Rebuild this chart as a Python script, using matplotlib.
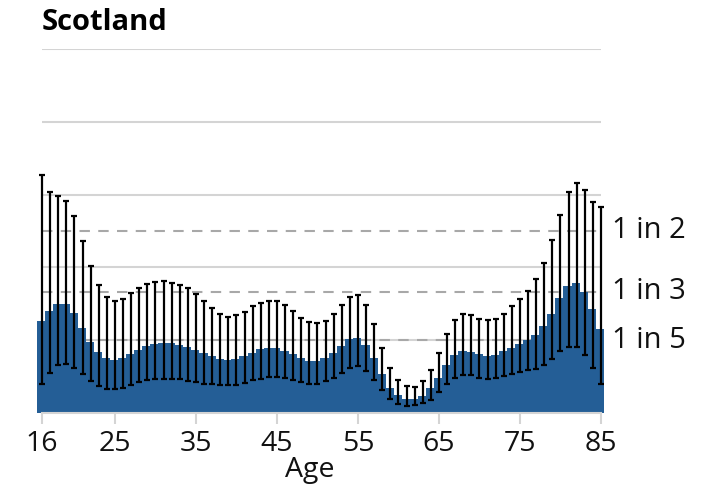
import numpy as np
import matplotlib
matplotlib.use('Agg')
import matplotlib.pyplot as plt

plt.rcParams['font.family'] = ['Open Sans', 'DejaVu Sans']

ages = list(range(16, 86))

# estimated share (bar height) per age
share = [0.253, 0.280, 0.300, 0.300, 0.274, 0.234, 0.196, 0.167, 0.150, 0.146,
         0.151, 0.163, 0.174, 0.184, 0.190, 0.192, 0.192, 0.188, 0.182, 0.174,
         0.166, 0.156, 0.148, 0.145, 0.148, 0.156, 0.166, 0.176, 0.178, 0.179,
         0.171, 0.162, 0.151, 0.144, 0.143, 0.150, 0.165, 0.184, 0.202, 0.206,
         0.187, 0.150, 0.106, 0.070, 0.050, 0.039, 0.039, 0.048, 0.068, 0.097,
         0.131, 0.158, 0.169, 0.168, 0.161, 0.157, 0.160, 0.169, 0.179, 0.190,
         0.200, 0.215, 0.239, 0.273, 0.315, 0.350, 0.358, 0.333, 0.286, 0.232]

upper = [0.653, 0.608, 0.595, 0.583, 0.540, 0.473, 0.405, 0.352, 0.319, 0.307,
         0.313, 0.329, 0.344, 0.355, 0.361, 0.362, 0.358, 0.352, 0.343, 0.327,
         0.307, 0.289, 0.272, 0.265, 0.268, 0.278, 0.293, 0.303, 0.308, 0.307,
         0.296, 0.280, 0.262, 0.250, 0.246, 0.253, 0.272, 0.298, 0.319, 0.324,
         0.298, 0.244, 0.179, 0.125, 0.090, 0.073, 0.072, 0.087, 0.118, 0.164,
         0.216, 0.256, 0.271, 0.269, 0.258, 0.255, 0.257, 0.272, 0.294, 0.314,
         0.335, 0.367, 0.412, 0.475, 0.544, 0.606, 0.631, 0.614, 0.581, 0.565]

lower = [0.079, 0.111, 0.131, 0.134, 0.123, 0.106, 0.087, 0.074, 0.067, 0.067,
         0.069, 0.077, 0.085, 0.091, 0.093, 0.094, 0.094, 0.093, 0.089, 0.086,
         0.081, 0.079, 0.077, 0.076, 0.078, 0.083, 0.090, 0.094, 0.100, 0.100,
         0.096, 0.091, 0.085, 0.081, 0.081, 0.087, 0.097, 0.111, 0.123, 0.128,
         0.115, 0.090, 0.062, 0.039, 0.026, 0.020, 0.021, 0.028, 0.037, 0.057,
         0.081, 0.096, 0.105, 0.105, 0.097, 0.094, 0.097, 0.102, 0.106, 0.113,
         0.117, 0.120, 0.131, 0.148, 0.169, 0.181, 0.180, 0.160, 0.123, 0.081]

ref_vals = [1 / 2, 1 / 3, 1 / 5]
ref_labels = ['1 in 2', '1 in 3', '1 in 5']
xticks = [16, 25, 35, 45, 55, 65, 75, 85]

share = np.array(share)
yerr = [share - np.array(lower), np.array(upper) - share]

fig = plt.figure(figsize=(7.1, 4.9), dpi=100)
ax = fig.add_axes([42 / 710, 1 - 413 / 490, 559 / 710, 364 / 490])

ax.set_xlim(16, 85)
ax.set_ylim(0, 1)

# solid grid
for g in [0.2, 0.4, 0.6, 0.8, 1.0]:
    ax.axhline(g, color='#d4d4d4', lw=1.5, zorder=0)
for v in ref_vals:
    ax.axhline(v, color='#a8a8a8', lw=1.5, ls=(0, (5, 4)), zorder=0.5)

ax.bar(np.array(ages) - 0.1, share, width=1.06, color='#245e96', lw=0,
       zorder=2, clip_on=False)
ax.errorbar(ages, share, yerr=yerr, fmt='none', ecolor='black', elinewidth=1.6,
            capsize=2.2, capthick=1.6, zorder=3, clip_on=False)

for v, lab in zip(ref_vals, ref_labels):
    ax.annotate(lab, xy=(1.0, v), xycoords=('axes fraction', 'data'),
                xytext=(8, 0), textcoords='offset points', ha='left', va='center',
                fontsize=21, color='#111111')

for s in ['top', 'right', 'left']:
    ax.spines[s].set_visible(False)
ax.spines['bottom'].set_color('#d4d4d4')
ax.spines['bottom'].set_linewidth(1.5)
ax.set_yticks([])
ax.set_xticks(xticks)
ax.tick_params(axis='x', length=8, width=1.5, color='#d4d4d4', labelsize=20.5,
               labelcolor='#111111', pad=4)
ax.set_xlabel('Age', fontsize=20.5, color='#111111')
ax.xaxis.set_label_coords((310 - 42) / 559, -0.118)

fig.text(42 / 710, 1 - 22 / 490, 'Scotland', fontsize=21, fontweight='bold',
         va='center', ha='left', color='black')

fig.savefig('out.png', dpi=100)
